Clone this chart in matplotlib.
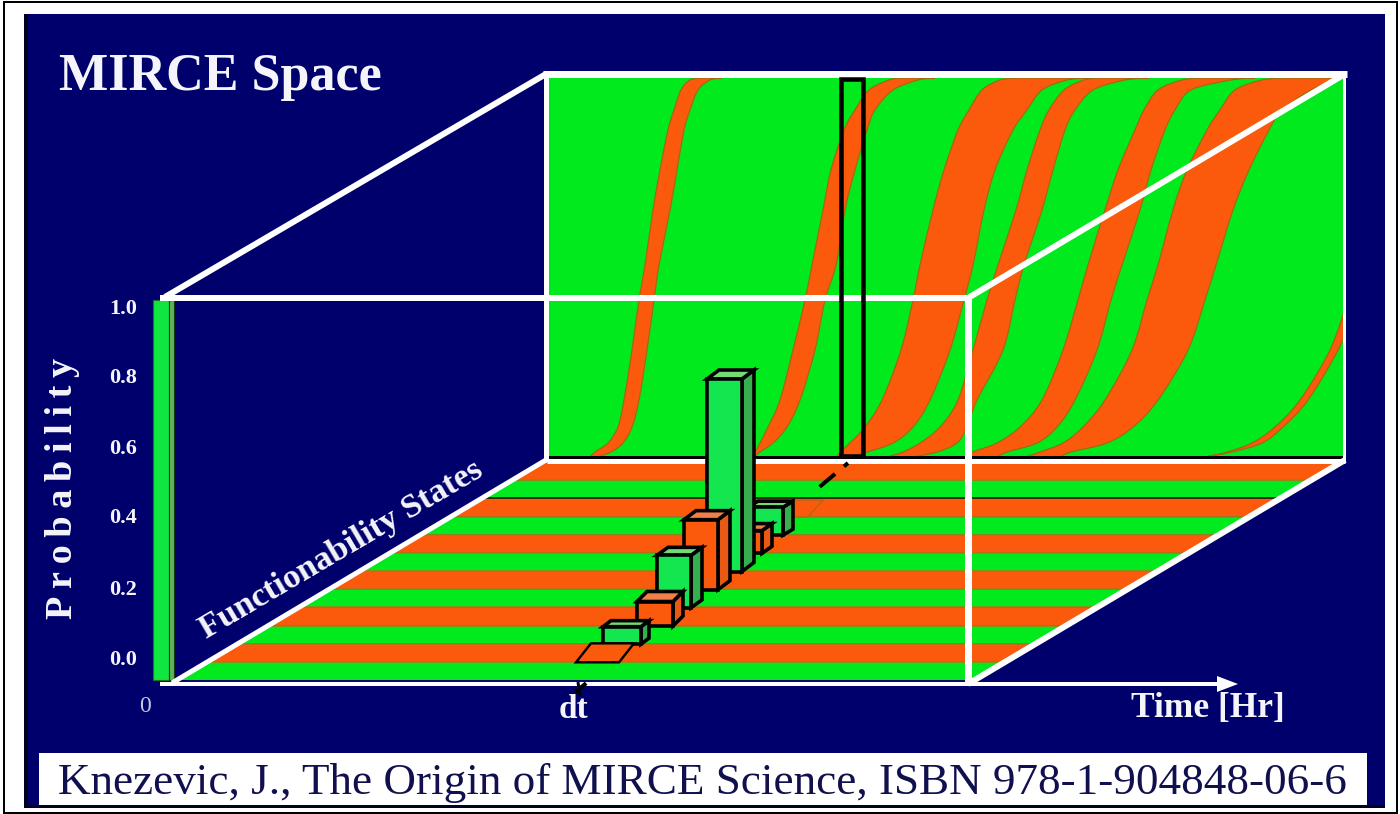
import matplotlib
matplotlib.use("Agg")
import matplotlib.pyplot as plt
from matplotlib.patches import Polygon, Rectangle, PathPatch
from matplotlib.path import Path
import numpy as np

# ---------- data ----------
GREEN = "#00ea1e"
ORANGE = "#fb5a0c"
NAVY = "#00006c"
EDGE = "#a06a10"

wall_rows_px = [457, 452, 443, 427, 400, 350, 300, 265, 210, 170, 130, 110, 90, 80, 78]

band1_left = [590, 595, 608, 618, 624, 632, 639, 645, 653, 660, 668, 674, 681, 690, 700]
band1_right = [597, 611, 623, 632, 639, 647, 654, 659, 670, 677, 684, 690, 698, 710, 722]
band2_left = [750, 755, 760, 768, 780, 793, 805, 812, 823, 831, 844, 855, 869, 889, 900]
band2_right = [754, 760, 773, 787, 800, 815, 825, 836, 845, 855, 867, 875, 893, 918, 935]
band3_left = [837, 840, 850, 865, 882, 901, 913, 920, 933, 944, 958, 969, 982, 1000, 1015]
band3_right = [847, 867, 893, 913, 930, 950, 964, 973, 984, 995, 1013, 1027, 1042, 1067, 1090]
band4_left = [887, 903, 920, 940, 958, 973, 987, 998, 1016, 1027, 1040, 1049, 1064, 1084, 1100]
band4_right = [913, 937, 957, 967, 977, 1003, 1015, 1024, 1042, 1053, 1065, 1075, 1093, 1125, 1150]
band5_left = [970, 973, 997, 1020, 1042, 1063, 1078, 1088, 1105, 1118, 1135, 1144, 1158, 1182, 1200]
band5_right = [997, 1007, 1037, 1057, 1075, 1097, 1111, 1122, 1140, 1151, 1165, 1175, 1191, 1231, 1255]
band6_left = [1025, 1040, 1063, 1083, 1105, 1132, 1147, 1158, 1173, 1187, 1207, 1220, 1235, 1262, 1285]
band6_right = [1060, 1071, 1107, 1133, 1158, 1188, 1205, 1216, 1233, 1249, 1269, 1282, 1311, 1335, 1345]
band7_left = [1205, 1227, 1252, 1275, 1300, 1330, 1348]
band7_right = [1205, 1232, 1262, 1283, 1308, 1338, 1360]
bands = [(band1_left, band1_right), (band2_left, band2_right), (band3_left, band3_right),
         (band4_left, band4_right), (band5_left, band5_right), (band6_left, band6_right),
         (band7_left, band7_right)]

floor_states = list(range(12))
state_colors = [GREEN, ORANGE] * 6

# bars, back to front
bar_state = [9, 8, 7, 6, 5, 4, 3, 2, 1]
bar_prob = [0.0, 0.08, 0.065, 0.55, 0.20, 0.15, 0.07, 0.05, 0.0]
bar_kind = ["o", "g", "o", "g", "o", "g", "o", "g", "o"]
bar_left_px = [780, 748, 745, 707, 684, 657, 637, 603, 576]
bar_width_px = [28, 35, 17, 35, 34, 34, 36, 38, 43]
bar_dx_px = [15, 10, 10, 12, 12, 11, 10, 8, 15]
bar_dy_px = [17, 6, 7, 9, 9, 8, 10, 6, 19]

y_ticks = ["0.0", "0.2", "0.4", "0.6", "0.8", "1.0"]
y_tick_px = [660, 590, 518, 449, 378, 309]
dash_t = [(-0.01, 0.03), (0.895, 0.952), (0.985, 1.0)]

# ---------- canvas ----------
plt.rcParams["font.family"] = ["Liberation Serif", "DejaVu Serif"]
fig = plt.figure(figsize=(14, 8.14), dpi=100, facecolor="white")
ax = fig.add_axes([0, 0, 1, 1])
ax.set_xlim(0, 1400)
ax.set_ylim(814, 0)
ax.axis("off")


def px(n):
    return n * 72 / 100


def line(x0, y0, x1, y1, w=5, c="white", z=5, cap="butt"):
    ax.plot([x0, x1], [y0, y1], color=c, lw=px(w), zorder=z, solid_capstyle=cap)


ax.add_patch(Rectangle((3.5, 1.5), 1393.5, 811, fc="white", ec="black", lw=px(2), zorder=0))
ax.add_patch(Rectangle((24, 14), 1361, 794, fc=NAVY, ec="none", zorder=1))
ax.add_patch(Rectangle((24, 14), 4, 794, fc="#000020", ec="none", zorder=1))
ax.add_patch(Rectangle((24, 805), 1361, 3, fc="#000020", ec="none", zorder=1))

# ---------- wall ----------
wall = Rectangle((547, 78), 796, 379, fc=GREEN, ec="none", zorder=2)
ax.add_patch(wall)


def smooth(xs, ys):
    """Catmull-Rom style curve through the read points."""
    p = np.column_stack([xs, ys]).astype(float)
    verts = [p[0]]
    codes = [Path.MOVETO]
    for i in range(len(p) - 1):
        p0 = p[max(i - 1, 0)]
        p3 = p[min(i + 2, len(p) - 1)]
        verts += [p[i] + (p[i + 1] - p0) / 6, p[i + 1] - (p3 - p[i]) / 6, p[i + 1]]
        codes += [Path.CURVE4] * 3
    return verts, codes


for left, right in bands:
    n = len(left)
    v1, c1 = smooth(left, wall_rows_px[:n])
    v2, c2 = smooth(right[::-1], wall_rows_px[:n][::-1])
    verts = v1 + [v2[0]] + v2[1:] + [v1[0]]
    codes = c1 + [Path.LINETO] + c2[1:] + [Path.CLOSEPOLY]
    patch = PathPatch(Path(verts, codes), fc=ORANGE, ec=EDGE, lw=0.9, zorder=3)
    ax.add_patch(patch)
    patch.set_clip_path(wall)

line(547, 457, 1343, 457, w=3, c="#000000", z=4)
line(547, 461, 1345, 461, w=5, z=4)

# ---------- floor ----------
floor_top = 462.0
floor_bottom = 680.0
slope = (545 - 172) / (683 - 460)


def fl(y):
    return 172 + (683 - y) * slope


def fr(y):
    return 968 + (683 - y) * slope


def state_y(s):
    return floor_bottom - (floor_bottom - floor_top) * s / len(floor_states)


for s, col in zip(floor_states, state_colors):
    y0, y1 = state_y(s), state_y(s + 1)
    ax.add_patch(Polygon([(fl(y0), y0), (fr(y0), y0), (fr(y1), y1), (fl(y1), y1)],
                         fc=col, ec="none", zorder=3))
    line(fl(y1), y1, fr(y1), y1, w=1.5, c="#b07818", z=3.1)
line(fl(498), 498, fr(498), 498, w=1.5, c="#101008", z=3.2)

# back and front box lines
line(543, 74, 1347, 74, w=7, z=4)
line(545.5, 72, 545.5, 462, w=5, z=4)
line(1344, 72, 1344, 462, w=3, z=4)

# left column
ax.add_patch(Rectangle((153, 300), 16, 380, fc="#10e640", ec="#207020", lw=0.8, zorder=4))
ax.add_patch(Rectangle((169, 300), 5, 380, fc="#60b060", ec="#104010", lw=0.8, zorder=4))

line(165, 297, 546, 74, w=6, z=6)
line(160, 298, 970, 298, w=6, z=6)
line(968, 297, 968, 684, w=7, z=6)
line(968, 298, 1345, 74, w=6, z=6)
line(172, 683, 546, 460, w=5, z=6)
line(968, 684, 1345, 460, w=6, z=6)
line(160, 681.5, 968, 681.5, w=2, c="#0a200a", z=5)
line(160, 684, 1220, 684, w=4, z=6)
ax.add_patch(Polygon([(1217, 676), (1238, 684), (1217, 692)], fc="white", ec="none", zorder=6))

# probe slice on the wall
ax.add_patch(Rectangle((841, 79), 22, 377, fc="none", ec="black", lw=px(4.5), zorder=7))

# dt dashed guide
X0, Y0, X1, Y1 = 578, 690, 848, 463
for a, b in dash_t:
    line(X0 + a * (X1 - X0), Y0 + a * (Y1 - Y0), X0 + b * (X1 - X0), Y0 + b * (Y1 - Y0),
         w=4, c="black", z=7)
line(578, 682, 580, 696, w=3, c="#000010", z=7)

# ---------- bars ----------
FACE = {"g": ("#14e650", "#36b04e", "#72dc72"), "o": (ORANGE, "#e85a14", "#f08048")}
UNIT_PX = 350
for k, (s, p, kind, xl, w, dx, dy) in enumerate(zip(bar_state, bar_prob, bar_kind, bar_left_px,
                                                   bar_width_px, bar_dx_px, bar_dy_px)):
    z = 8 + k
    yb = state_y(s) + 0.5
    front, side, top = FACE[kind]
    lw = px(3.6)
    if p == 0:
        ax.add_patch(Polygon([(xl, yb), (xl + w, yb), (xl + w + dx, yb - dy), (xl + dx, yb - dy)],
                             fc=front, ec="black" if k else EDGE, lw=px(2.4 if k else 1), zorder=z,
                             joinstyle="miter"))
        continue
    h = p * UNIT_PX
    yt = yb - h
    ax.add_patch(Polygon([(xl + w, yb), (xl + w + dx, yb - dy), (xl + w + dx, yt - dy), (xl + w, yt)],
                         fc=side, ec="black", lw=lw, zorder=z))
    ax.add_patch(Polygon([(xl, yt), (xl + w, yt), (xl + w + dx, yt - dy), (xl + dx, yt - dy)],
                         fc=top, ec="black", lw=lw, zorder=z))
    ax.add_patch(Rectangle((xl, yt), w, h, fc=front, ec="black", lw=lw, zorder=z))

# ---------- text ----------
WT = "#f4f4fa"
TH = "\u2009"
ax.text(59, 90, "MIRCE Space", color=WT, fontsize=37.5, fontweight="bold", ha="left", va="baseline", zorder=20)
ax.text(62, 488, TH.join("Probability"), color=WT, fontsize=27.5, fontweight="bold", rotation=90,
        ha="center", va="center", zorder=20)
for lab, y in zip(y_ticks, y_tick_px):
    ax.text(123, y, lab, color=WT, fontsize=16, fontweight="bold", ha="center", va="center", zorder=20)
ax.text(341, 550, "Functionability States", color=WT, fontsize=24.8, fontweight="bold",
        rotation=30.5, rotation_mode="anchor", ha="center", va="center", zorder=20)
ax.text(145, 707, "0", color="#c8c8e0", fontsize=17, ha="center", va="center", zorder=20)
ax.text(574, 710, "dt", color=WT, fontsize=24, fontweight="bold", ha="center", va="center", zorder=20)
ax.text(1208, 708, "Time [Hr]", color=WT, fontsize=25.5, fontweight="bold", ha="center", va="center", zorder=20)
ax.add_patch(Rectangle((39, 753), 1328, 52, fc="white", ec="none", zorder=19))
ax.text(702, 794, "Knezevic, J., The Origin of MIRCE Science, ISBN 978-1-904848-06-6",
        color="#10104e", fontsize=32.5, ha="center", va="baseline", zorder=20)

fig.savefig("out.png", dpi=100, facecolor="white")
